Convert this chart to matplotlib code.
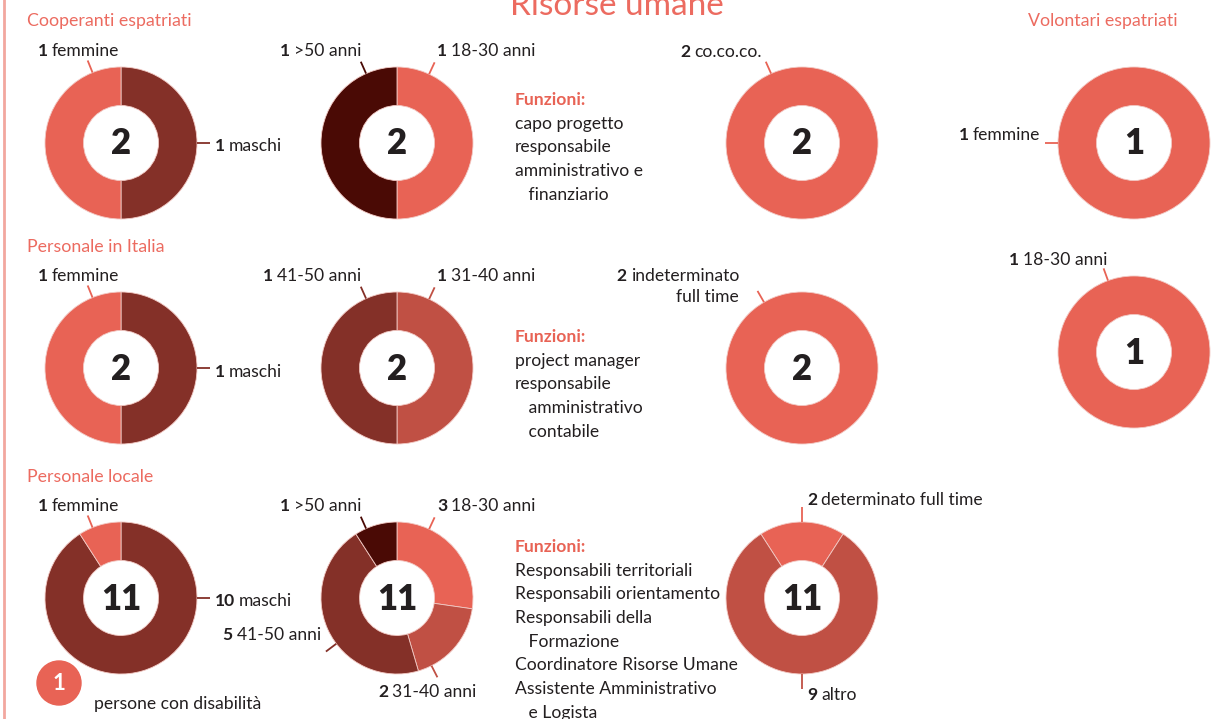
import matplotlib.pyplot as plt
import numpy as np

W, H = 1212, 719
CORAL = '#E86355'
BROWN = '#843028'
DARK = '#4A0A05'
MID = '#C05044'
TXT = '#231F20'
HEAD = '#EC6B60'

plt.rcParams['font.family'] = ['Lato', 'DejaVu Sans']

# --- data ---
# gender donuts: maschi, femmine (clockwise from top)
cooperanti_genere = [1, 1]
italia_genere = [1, 1]
locale_genere = [10, 1]
volontari_genere = [1]          # femmine
# age donuts
cooperanti_eta = [1, 1]         # 18-30, >50
italia_eta = [1, 1]             # 31-40, 41-50
locale_eta = [3, 2, 5, 1]       # 18-30, 31-40, 41-50, >50
volontari_eta = [1]             # 18-30
# contract donuts
cooperanti_contratto = [2]      # co.co.co.
italia_contratto = [2]          # indeterminato full time
locale_contratto = [2, 9]       # determinato full time, altro
disabili = 1

funzioni_cooperanti = ['capo progetto', 'responsabile', 'amministrativo e', '   finanziario']
funzioni_italia = ['project manager', 'responsabile', '   amministrativo', '   contabile']
funzioni_locale = ['Responsabili territoriali', 'Responsabili orientamento',
                   'Responsabili della', '   Formazione', 'Coordinatore Risorse Umane',
                   'Assistente Amministrativo', '   e Logista']

R_OUT, R_IN = 76, 37.5
FS = 12.6

fig = plt.figure(figsize=(W / 100, H / 100), dpi=100)
ax = fig.add_axes([0, 0, 1, 1])
rend = fig.canvas.get_renderer()


def donut(cx, cy, vals, colors, start=90):
    ax.pie(vals, colors=colors, radius=R_OUT, center=(cx, H - cy), startangle=start,
           counterclock=False,
           wedgeprops=dict(width=R_OUT - R_IN, edgecolor='#f2c9c4', linewidth=0.6))
    ax.text(cx, H - cy - 1, str(sum(vals)), ha='center', va='center', fontsize=25,
            fontweight='heavy', color=TXT)


def leader(cx, cy, ang, color, r0=R_OUT, r1=89):
    a = np.radians(ang)
    ax.plot([cx + r0 * np.cos(a), cx + r1 * np.cos(a)],
            [H - cy + r0 * np.sin(a), H - cy + r1 * np.sin(a)],
            color=color, lw=1.3, solid_capstyle='butt')


def label(x, y, num, txt, ha='left', size=FS):
    if ha == 'left':
        t1 = ax.text(x, H - y, num, ha='left', va='center', fontsize=size,
                     fontweight='bold', color=TXT)
        w = t1.get_window_extent(renderer=rend).width
        ax.text(x + w + 4, H - y, txt, ha='left', va='center', fontsize=size, color=TXT)
    else:
        t2 = ax.text(x, H - y, txt, ha='right', va='center', fontsize=size, color=TXT)
        w = t2.get_window_extent(renderer=rend).width
        ax.text(x - w - 4, H - y, num, ha='right', va='center', fontsize=size,
                fontweight='bold', color=TXT)


def funzioni(x, y, lines, step=23.7):
    ax.text(x, H - y, 'Funzioni:', ha='left', va='center', fontsize=FS,
            fontweight='bold', color=CORAL)
    for i, ln in enumerate(lines):
        ax.text(x, H - (y + step * (i + 1)), ln, ha='left', va='center', fontsize=FS, color=TXT)


# row 1: Cooperanti espatriati
donut(121, 143, cooperanti_genere, [BROWN, CORAL])
label(38, 51, str(cooperanti_genere[1]), 'femmine')
leader(121, 143, 112, CORAL)
label(215, 146, str(cooperanti_genere[0]), 'maschi')
leader(121, 143, 0, BROWN)

donut(397, 143, cooperanti_eta, [CORAL, DARK])
label(361, 51, str(cooperanti_eta[1]), '>50 anni', ha='right')
leader(397, 143, 114, DARK)
label(437, 51, str(cooperanti_eta[0]), '18-30 anni')
leader(397, 143, 65, CORAL)

funzioni(515, 100, funzioni_cooperanti)

donut(802, 143, cooperanti_contratto, [CORAL])
label(762, 52, str(cooperanti_contratto[0]), 'co.co.co.', ha='right')
leader(802, 143, 114, CORAL)

# Volontari espatriati
donut(1134, 143, volontari_genere, [CORAL])
label(1040, 135, str(volontari_genere[0]), 'femmine', ha='right')
leader(1134, 143, 180, CORAL)

donut(1134, 352, volontari_eta, [CORAL])
label(1107, 260, str(volontari_eta[0]), '18-30 anni', ha='right')
leader(1134, 352, 110, CORAL)

# row 2: Personale in Italia
donut(121, 368, italia_genere, [BROWN, CORAL])
label(38, 276, str(italia_genere[1]), 'femmine')
leader(121, 368, 112, CORAL)
label(215, 372, str(italia_genere[0]), 'maschi')
leader(121, 368, 0, BROWN)

donut(397, 368, italia_eta, [MID, BROWN])
label(361, 276, str(italia_eta[1]), '41-50 anni', ha='right')
leader(397, 368, 114, BROWN)
label(437, 276, str(italia_eta[0]), '31-40 anni')
leader(397, 368, 65, MID)

funzioni(515, 337, funzioni_italia)

donut(802, 368, italia_contratto, [CORAL])
label(739, 276, str(italia_contratto[0]), 'indeterminato', ha='right')
ax.text(739, H - 297, 'full time', ha='right', va='center', fontsize=FS, color=TXT)
leader(802, 368, 120, CORAL)

# row 3: Personale locale
donut(121, 598, locale_genere, [BROWN, CORAL])
label(38, 506, str(locale_genere[1]), 'femmine')
leader(121, 598, 112, CORAL)
label(215, 601, str(locale_genere[0]), 'maschi')
leader(121, 598, 0, BROWN)

donut(397, 598, locale_eta, [CORAL, MID, BROWN, DARK])
label(361, 506, str(locale_eta[3]), '>50 anni', ha='right')
leader(397, 598, 114, DARK)
label(437, 506, str(locale_eta[0]), '18-30 anni')
leader(397, 598, 65, CORAL)
label(321, 635, str(locale_eta[2]), '41-50 anni', ha='right')
leader(397, 598, 217, BROWN)
label(378, 692, str(locale_eta[1]), '31-40 anni')
leader(397, 598, 297, MID)

funzioni(515, 547, funzioni_locale)

start3 = 90 + 180 * locale_contratto[0] / sum(locale_contratto)
donut(802, 598, locale_contratto, [CORAL, MID], start=start3)
label(807, 500, str(locale_contratto[0]), 'determinato full time')
leader(802, 598, 90, CORAL, r1=91)
label(807, 695, str(locale_contratto[1]), 'altro')
leader(802, 598, 270, MID, r1=91)

# persone con disabilita
ax.add_patch(plt.Circle((59, H - 683), 22, color=CORAL))
ax.text(59, H - 684, str(disabili), ha='center', va='center', fontsize=16,
        fontweight='bold', color='white')
ax.text(94, H - 704, 'persone con disabilità', ha='left', va='center', fontsize=FS, color=TXT)

# section headings
for x, y, s in [(27, 21, 'Cooperanti espatriati'), (27, 247, 'Personale in Italia'),
                (27, 477, 'Personale locale'), (1028, 21, 'Volontari espatriati')]:
    ax.text(x, H - y, s, ha='left', va='center', fontsize=12.8, color=HEAD)

# title is partly cut by the top edge, as in the original
ax.text(617, H - 15, 'Risorse umane', ha='center', va='baseline', fontsize=24, color=HEAD)
ax.plot([4, 4], [0, H], color='#F2A79F', lw=2)

ax.set_xlim(0, W)
ax.set_ylim(0, H)
ax.set_aspect('auto')
ax.axis('off')
fig.savefig('out.png', dpi=100)
